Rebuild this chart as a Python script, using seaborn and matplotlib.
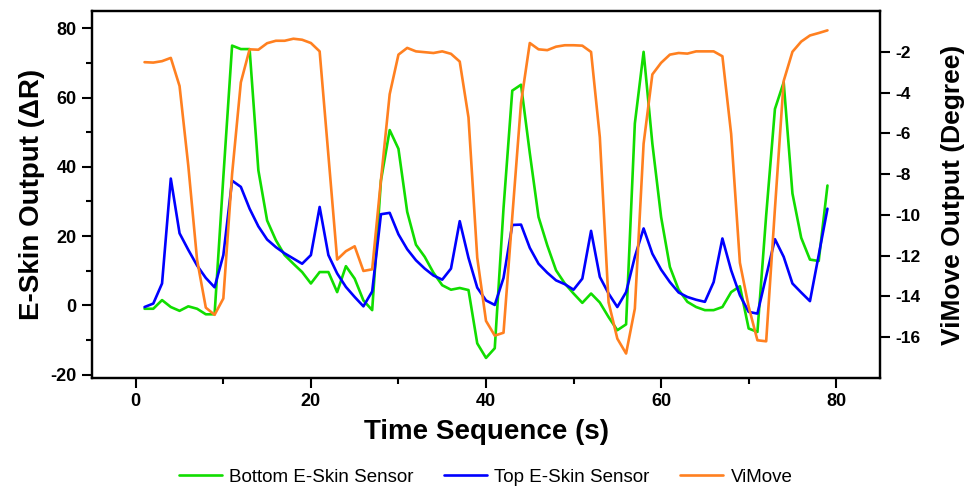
import numpy as np
import pandas as pd
import matplotlib
matplotlib.use("Agg")
import matplotlib.pyplot as plt
import seaborn as sns
from matplotlib.lines import Line2D

time_s = list(range(1, 80))

bottom_eskin = [
    -1.0, -1.0, 1.5, -0.5, -1.6, -0.3, -1.0, -2.6, -2.6, 37,
    75, 74, 74, 39, 24.5, 18.8, 14.5, 12, 9.6, 6.3,
    9.6, 9.6, 3.8, 11.3, 7.7, 1.4, -1.4, 36, 50.6, 45.2,
    27, 17.5, 14, 9.4, 5.8, 4.5, 5.0, 4.4, -11, -15.2,
    -12.4, 28, 62, 63.7, 44, 25.5, 17.3, 10.1, 6.3, 3.4,
    0.7, 3.4, 0.8, -3.4, -7.2, -5.5, 52.5, 73.2, 46.7, 25.5,
    11.1, 4.5, 1.0, -0.5, -1.4, -1.4, -0.5, 3.8, 5.5, -6.7,
    -7.7, 26, 56.7, 64.4, 32.3, 19.5, 13.2, 12.8, 34.6,
]

top_eskin = [
    -0.5, 0.5, 6.3, 36.6, 20.8, 16, 11.5, 7.9, 5.2, 14.5,
    36, 34.2, 27.9, 22.8, 19, 16.8, 15, 13.5, 12, 14.5,
    28.4, 14.5, 9.2, 5.3, 2.4, -0.3, 4, 26.3, 26.7, 20.5,
    16.2, 13, 10.6, 8.6, 7.4, 10.6, 24.3, 13.7, 5.1, 1.4,
    0.1, 7.9, 23.2, 23.3, 16.6, 12, 9.4, 7.2, 6.1, 4.5,
    7.7, 21.5, 8.2, 3.4, -0.5, 3.8, 14, 22.2, 14.9, 10.3,
    6.7, 3.7, 2.4, 1.6, 1.0, 6.7, 19.3, 10.1, 2.9, -1.9,
    -2.4, 8.4, 19.1, 14, 6.3, 3.7, 1.2, 14.5, 27.9,
]

vimove = [
    -2.51, -2.53, -2.46, -2.30, -3.68, -7.6, -12.2, -14.55, -14.9, -14.1,
    -8.0, -3.5, -1.88, -1.9, -1.58, -1.46, -1.46, -1.36, -1.41, -1.57,
    -1.98, -7.08, -12.19, -11.78, -11.54, -12.75, -12.67, -8.3, -4.08, -2.14,
    -1.81, -1.98, -2.02, -2.06, -1.98, -2.1, -2.48, -5.22, -12.1, -15.2,
    -15.92, -15.78, -10.1, -4.5, -1.57, -1.88, -1.92, -1.75, -1.68, -1.68,
    -1.70, -2.01, -6.19, -14.29, -16.07, -16.8, -14.6, -6.51, -3.11, -2.54,
    -2.14, -2.06, -2.09, -1.98, -1.98, -1.98, -2.22, -6.03, -12.35, -14.5,
    -16.15, -16.2, -9.7, -3.43, -2.0, -1.5, -1.2, -1.08, -0.95,
]

labels = ["Bottom E-Skin Sensor", "Top E-Skin Sensor", "ViMove"]
colors = ["#11dd00", "#0000ff", "#ff8020"]

sns.set_theme(style="ticks")
plt.rcParams["font.family"] = ["Liberation Sans", "DejaVu Sans"]
plt.rcParams["text.color"] = "black"
plt.rcParams["axes.labelcolor"] = "black"
plt.rcParams["xtick.color"] = "black"
plt.rcParams["ytick.color"] = "black"
plt.rcParams["axes.unicode_minus"] = False

df_left = pd.DataFrame({
    "t": time_s * 2,
    "v": bottom_eskin + top_eskin,
    "s": [labels[0]] * len(time_s) + [labels[1]] * len(time_s),
})
df_right = pd.DataFrame({"t": time_s, "v": vimove, "s": [labels[2]] * len(time_s)})

fig = plt.figure(figsize=(9.71, 4.88), dpi=100)
ax = fig.add_axes([92 / 971, 1 - 378 / 488, (880 - 92) / 971, (378 - 11) / 488])
ax2 = ax.twinx()

LW = 1.9
sns.lineplot(data=df_left, x="t", y="v", hue="s", palette=colors[:2], ax=ax,
             linewidth=LW, legend=False, sort=False)
sns.lineplot(data=df_right, x="t", y="v", hue="s", palette=[colors[2]], ax=ax2,
             linewidth=LW, legend=False, sort=False)

ax.set_xlim(-5, 85)
ax.set_ylim(-21, 85)
ax2.set_ylim(-18, 0)

ax.set_xticks([0, 20, 40, 60, 80])
ax.set_xticks([10, 30, 50, 70], minor=True)
ax.set_yticks([-20, 0, 20, 40, 60, 80])
ax.set_yticks([-10, 10, 30, 50, 70], minor=True)
ax2.set_yticks([-16, -14, -12, -10, -8, -6, -4, -2])

for a in (ax, ax2):
    for sp in a.spines.values():
        sp.set_linewidth(1.6)
        sp.set_color("black")
    a.tick_params(which="major", length=7, width=1.5, direction="out", labelsize=13, pad=4, colors="black")
    a.tick_params(which="minor", length=4, width=1.5, direction="out", colors="black")
    for lab in a.get_xticklabels() + a.get_yticklabels():
        lab.set_fontweight("bold")
ax2.tick_params(axis="y", which="major", labelsize=12.5)

ax.set_xlabel("Time Sequence (s)", fontsize=20, fontweight="bold", labelpad=6, color="black")
ax.set_ylabel("E-Skin Output (ΔR)", fontsize=20, fontweight="bold", labelpad=4, color="black")
ax2.set_ylabel("ViMove Output (Degree)", fontsize=19, fontweight="bold", labelpad=15, color="black")

handles = [Line2D([0], [0], color=c, lw=LW) for c in colors]
fig.legend(handles, labels, loc="center", bbox_to_anchor=(0.5, 1 - 477 / 488), ncol=3,
           frameon=False, fontsize=13.5, handlelength=2.3, handletextpad=0.4,
           columnspacing=1.6, labelcolor="black")

fig.savefig("out.png", dpi=100, facecolor="white")
